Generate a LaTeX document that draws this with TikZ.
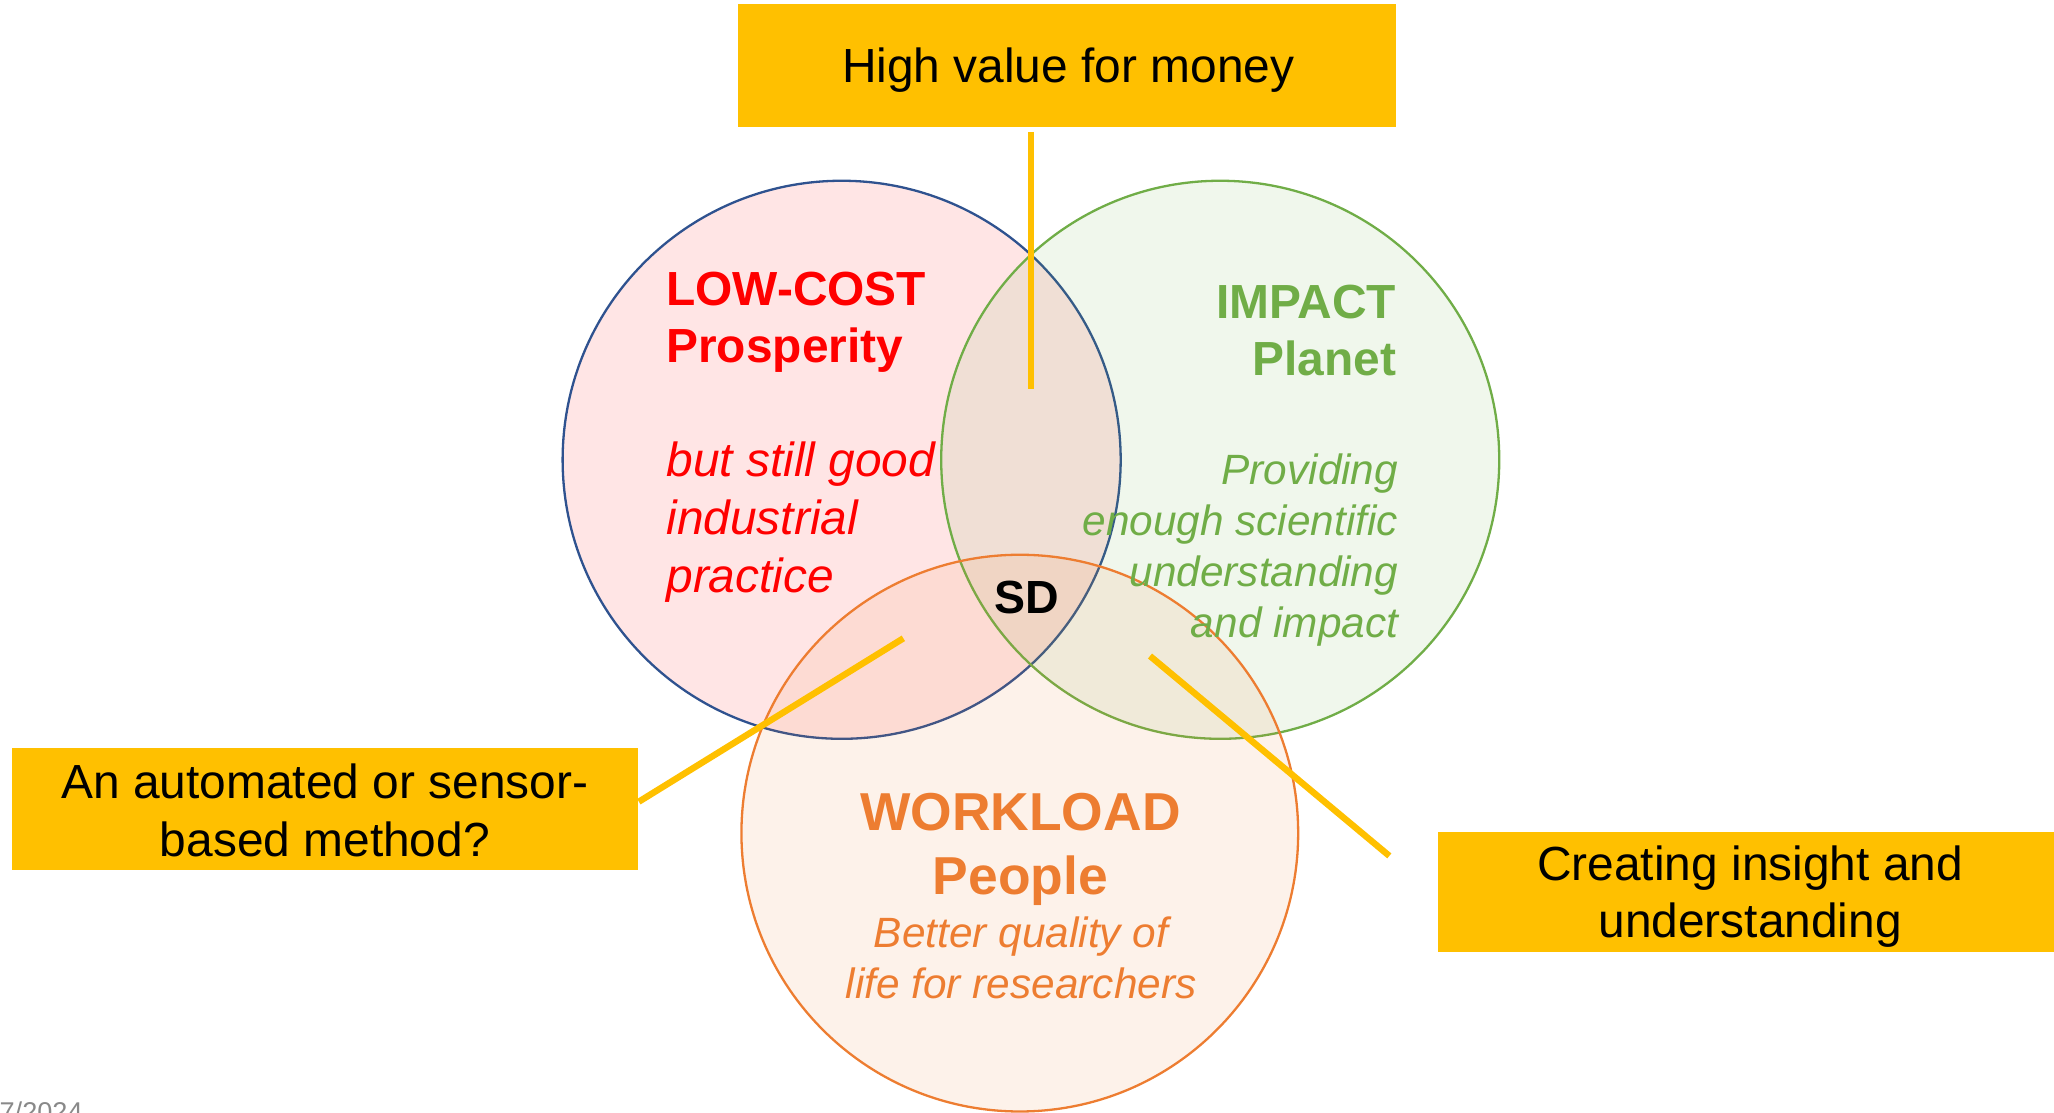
\documentclass[tikz,border=0pt]{standalone}
\usepackage{fontspec}
\setmainfont{Liberation Sans}
\usepackage{tikz}
\usetikzlibrary{calc}

\definecolor{lowred}{HTML}{FF0000}
\definecolor{rimblue}{HTML}{2F528F}
\definecolor{impactgreen}{HTML}{70AD47}
\definecolor{workorange}{HTML}{ED7D31}
\definecolor{callout}{HTML}{FFC000}
\definecolor{footgray}{HTML}{898989}

\tikzset{
	calloutbox/.style={fill=callout, draw=none, inner sep=0pt},
	calloutline/.style={draw=callout, line width=1.4pt},
	callouttext/.style={font=\fontsize{10.4}{12.5}\selectfont, text=black, inner sep=0pt, anchor=base},
	lowhead/.style={font=\fontsize{10.4}{12.5}\selectfont\bfseries, text=lowred, inner sep=0pt, anchor=base west},
	lowtext/.style={font=\fontsize{10.4}{12.5}\selectfont\itshape, text=lowred, inner sep=0pt, anchor=base west},
	impacthead/.style={font=\fontsize{10.4}{12.5}\selectfont\bfseries, text=impactgreen, inner sep=0pt, anchor=base east},
	impacttext/.style={font=\fontsize{9.2}{11}\selectfont\itshape, text=impactgreen, inner sep=0pt, anchor=base east},
	workhead/.style={font=\fontsize{11.6}{14}\selectfont\bfseries, text=workorange, inner sep=0pt, anchor=base},
	worktext/.style={font=\fontsize{9.2}{11}\selectfont\itshape, text=workorange, inner sep=0pt, anchor=base},
	sdlabel/.style={font=\fontsize{10.1}{12}\selectfont\bfseries, text=black, inner sep=0pt, anchor=base},
	footer/.style={font=\fontsize{5.9}{7}\selectfont, text=footgray, inner sep=0pt, anchor=base west}
}

\begin{document}
\begin{tikzpicture}
	%%%%% START %%%%%
	\useasboundingbox (0, 0) rectangle (15.68, 8.49);
	
	\draw[rimblue, line width=0.5pt, fill=lowred, fill opacity=0.1] (6.425, 4.98) circle (2.13);
	\draw[impactgreen, line width=0.5pt, fill=impactgreen, fill opacity=0.1] (9.315, 4.98) circle (2.13);
	\draw[workorange, line width=0.5pt, fill=workorange, fill opacity=0.1] (7.785, 2.13) circle (2.125);
	
	\node[calloutbox, minimum width=5.03cm, minimum height=0.94cm] (money) at (8.145, 7.99) {};
	\node[calloutbox, minimum width=4.78cm, minimum height=0.93cm] (method) at (2.48, 2.315) {};
	\node[calloutbox, minimum width=4.765cm, minimum height=0.92cm] (insight) at (13.3575, 1.68) {};
	
	\node[callouttext] (money-a) at (8.155, 7.86) {High value for money};
	\node[callouttext] (method-a) at (2.48, 2.395) {An automated or sensor-};
	\node[callouttext] (method-b) at (2.48, 1.955) {based method?};
	\node[callouttext] (insight-a) at (13.36, 1.77) {Creating insight and};
	\node[callouttext] (insight-b) at (13.36, 1.33) {understanding};
	
	\coordinate (moneytip) at (7.87, 5.52);
	\coordinate (methodtip) at (6.896, 3.617);
	\coordinate (insighttip) at (8.779, 3.482);
	\coordinate (insightfoot) at (10.606, 1.956);
	\draw[calloutline, shorten <=0.03cm] (money.south -| moneytip) -- (moneytip);
	\draw[calloutline] ([yshift=0.055cm]method.east) -- (methodtip);
	\draw[calloutline] (insighttip) -- (insightfoot);
	
	\node[lowhead] (low-a) at (5.08, 6.16) {LOW-COST};
	\node[lowhead] (low-b) at (5.08, 5.72) {Prosperity};
	\node[lowtext] (low-c) at (5.08, 4.85) {but still good};
	\node[lowtext] (low-d) at (5.08, 4.41) {industrial};
	\node[lowtext] (low-e) at (5.08, 3.97) {practice};
	
	\node[impacthead] (impact-a) at (10.665, 6.06) {IMPACT};
	\node[impacthead] (impact-b) at (10.665, 5.62) {Planet};
	\node[impacttext] (impact-c) at (10.68, 4.79) {Providing};
	\node[impacttext] (impact-d) at (10.68, 4.40) {enough scientific};
	\node[impacttext] (impact-e) at (10.68, 4.01) {understanding};
	\node[impacttext] (impact-f) at (10.68, 3.62) {and impact};
	
	\node[workhead] (work-a) at (7.79, 2.153) {WORKLOAD};
	\node[workhead] (work-b) at (7.79, 1.663) {People};
	\node[worktext] (work-c) at (7.795, 1.256) {Better quality of};
	\node[worktext] (work-d) at (7.795, 0.869) {life for researchers};
	
	\node[sdlabel] (sd) at (7.837, 3.81) {SD};
	
	\node[footer] (date) at (-0.01, -0.07) {7/2024};
	
	%%%%% END %%%%%
\end{tikzpicture}
\end{document}
